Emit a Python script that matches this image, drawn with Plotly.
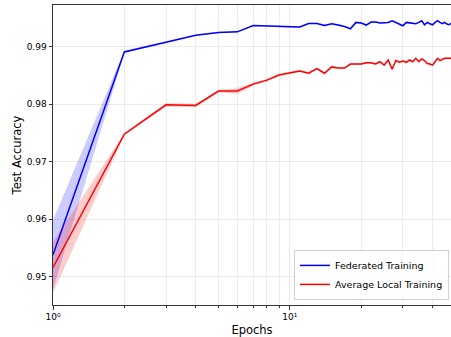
import numpy as np
import plotly.graph_objects as go

# Test accuracy per epoch (mean and spread over runs)
epochs = list(range(1, 51))

federated_mean = [
    0.9538, 0.9891, 0.9908, 0.9920, 0.9925, 0.9926, 0.9937, 0.9936, 0.9935, 0.9934,
    0.99343, 0.99406, 0.99406, 0.99372, 0.99401, 0.99378, 0.99354, 0.99314, 0.99424, 0.99412,
    0.99378, 0.99430, 0.99430, 0.99412, 0.99412, 0.99424, 0.99453, 0.99424, 0.99395, 0.99365,
    0.99424, 0.99412, 0.99401, 0.99401, 0.99424, 0.99453, 0.99383, 0.99424, 0.99401, 0.99383,
    0.99424, 0.99453, 0.99424, 0.99401, 0.99424, 0.99395, 0.99383, 0.99410, 0.99400, 0.99420,
]
federated_std = [
    0.0060, 0.0002, 0.00015, 0.0001, 0.0001, 0.0001, 0.0001, 0.0001, 0.0001, 0.0001,
    0.0001, 0.0001, 0.0001, 0.0002, 0.0001, 0.0002, 0.0001, 0.0001, 0.0001, 0.0001,
    0.0001, 0.0001, 0.0001, 0.0001, 0.0001, 0.0001, 0.0001, 0.0001, 0.0001, 0.0001,
    0.0001, 0.0001, 0.0001, 0.0001, 0.0001, 0.0001, 0.0001, 0.0001, 0.0001, 0.0001,
    0.0001, 0.0001, 0.0001, 0.0001, 0.0001, 0.0001, 0.0001, 0.0001, 0.0001, 0.0001,
]

local_mean = [
    0.9516, 0.9748, 0.9799, 0.9798, 0.9823, 0.9823, 0.9835, 0.9842, 0.9851, 0.9855,
    0.9858, 0.9854, 0.9862, 0.9854, 0.9865, 0.9863, 0.9863, 0.9870, 0.9870, 0.9870,
    0.9872, 0.9872, 0.9870, 0.9874, 0.9868, 0.9877, 0.9861, 0.9876, 0.9873, 0.9875,
    0.9873, 0.9877, 0.9874, 0.9880, 0.9874, 0.9879, 0.9876, 0.9871, 0.9870, 0.9868,
    0.9874, 0.9880, 0.9876, 0.9878, 0.9880, 0.9880, 0.9880, 0.9879, 0.9880, 0.9881,
]
local_std = [
    0.0044, 0.0002, 0.0003, 0.0003, 0.0002, 0.0005, 0.0003, 0.0002, 0.0002, 0.0002,
    0.0002, 0.0002, 0.0002, 0.0002, 0.0002, 0.00015, 0.00015, 0.00015, 0.00015, 0.00015,
    0.00015, 0.00015, 0.00015, 0.00015, 0.00015, 0.00015, 0.00015, 0.00015, 0.00015, 0.00015,
    0.00015, 0.00015, 0.00015, 0.00015, 0.00015, 0.00015, 0.00015, 0.00015, 0.00015, 0.00015,
    0.00015, 0.00015, 0.00015, 0.00015, 0.00015, 0.00015, 0.00015, 0.00015, 0.00015, 0.00015,
]

series = [
    ("Federated Training", federated_mean, federated_std, "#0000ff", "rgba(0,0,255,0.2)"),
    ("Average Local Training", local_mean, local_std, "#ff0000", "rgba(255,0,0,0.2)"),
]

x_major = [1, 10]
x_major_text = ["10\u2070", "10\u00b9"]
x_minor = [2, 3, 4, 5, 6, 7, 8, 9, 20, 30, 40, 50]
y_ticks = [0.95, 0.96, 0.97, 0.98, 0.99]

FONT = "DejaVu Sans"

fig = go.Figure()

# shaded spread (mean +/- std) behind each line
for name, mean, std, color, fill in series:
    m = np.array(mean)
    s = np.array(std)
    upper = m + s
    lower = m - s
    fig.add_trace(go.Scatter(
        x=epochs + epochs[::-1],
        y=list(upper) + list(lower[::-1]),
        fill="toself", fillcolor=fill, line=dict(width=0),
        mode="lines", hoverinfo="skip", showlegend=False,
    ))

for name, mean, std, color, fill in series:
    fig.add_trace(go.Scatter(
        x=epochs, y=mean, mode="lines", name=name,
        line=dict(color=color, width=1.5),
    ))

fig.update_layout(
    width=451, height=337,
    margin=dict(l=53, r=0, t=5, b=32),
    paper_bgcolor="white", plot_bgcolor="white",
    font=dict(family=FONT, size=9, color="#000000"),
    showlegend=True,
    legend=dict(
        x=0.995, y=0.017, xanchor="right", yanchor="bottom",
        bgcolor="rgba(255,255,255,0.8)", bordercolor="#d0d0d0", borderwidth=1,
        font=dict(family=FONT, size=9.5), itemwidth=30,
        tracegroupgap=0,
    ),
)

fig.update_xaxes(
    type="log", range=[0, 1.68],
    tickvals=x_major, ticktext=x_major_text,
    ticks="outside", ticklen=3.5, tickwidth=0.8, tickcolor="#333333",
    showgrid=True, gridcolor="#ebebeb", gridwidth=0.8,
    minor=dict(tickvals=x_minor, ticks="outside", ticklen=2, tickwidth=0.6,
               tickcolor="#333333", showgrid=True, gridcolor="#ebebeb", gridwidth=0.8),
    showline=True, linecolor="#333333", linewidth=1, mirror=True,
    zeroline=False,
    title=dict(text="Epochs", font=dict(family=FONT, size=11.5), standoff=6),
    tickfont=dict(family=FONT, size=9),
)

fig.update_yaxes(
    range=[0.94507, 0.99727],
    tickvals=y_ticks, ticktext=[f"{v:.2f}" for v in y_ticks],
    ticks="outside", ticklen=3.5, tickwidth=0.8, tickcolor="#333333",
    showgrid=True, gridcolor="#ebebeb", gridwidth=0.8,
    showline=True, linecolor="#333333", linewidth=1,
    zeroline=False,
    title=dict(text="Test Accuracy", font=dict(family=FONT, size=11.5), standoff=2),
    tickfont=dict(family=FONT, size=9),
)

fig.write_html("out.html")
